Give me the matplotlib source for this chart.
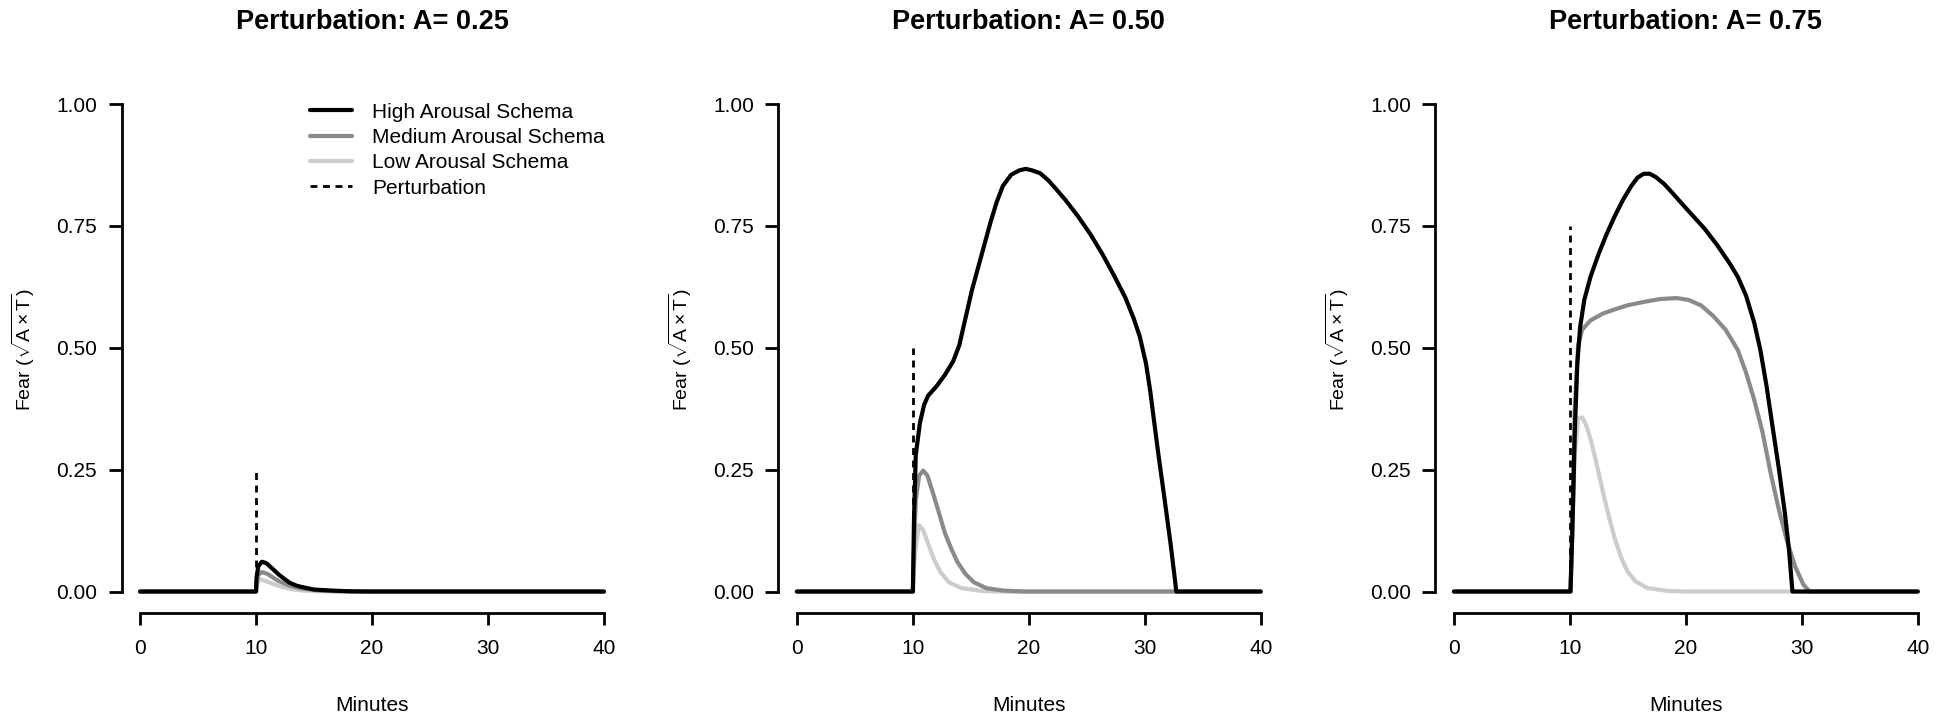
import matplotlib
matplotlib.use('Agg')
import matplotlib.pyplot as plt

plt.rcParams['font.family'] = ['Liberation Sans', 'DejaVu Sans']
plt.rcParams['mathtext.fontset'] = 'custom'
plt.rcParams['mathtext.rm'] = 'Liberation Sans'
plt.rcParams['mathtext.it'] = 'Liberation Sans'

amplitudes = [0.25, 0.50, 0.75]
titles = ['Perturbation: A= 0.25', 'Perturbation: A= 0.50', 'Perturbation: A= 0.75']
perturb_time = 10
x_ticks = [0, 10, 20, 30, 40]
y_ticks = [0.00, 0.25, 0.50, 0.75, 1.00]

# A = 0.25
t_high_25 = [0, 10, 10.05, 10.2, 10.5, 10.8, 11.0, 11.5, 12.0, 12.5, 12.9, 13.5, 14.0, 15.0,
             16.5, 18.0, 20.0, 40]
high_25 = [0, 0, 0.03, 0.052, 0.061, 0.059, 0.056, 0.045, 0.034, 0.025, 0.018, 0.012, 0.009,
           0.004, 0.002, 0.0005, 0, 0]
t_med_25 = [0, 10, 10.05, 10.2, 10.5, 11.0, 11.5, 12.0, 13.0, 14.0, 15.5, 17.0, 19.0, 40]
med_25 = [0, 0, 0.02, 0.034, 0.040, 0.036, 0.028, 0.021, 0.011, 0.006, 0.002, 0.0007, 0, 0]
t_low_25 = [0, 10, 10.05, 10.2, 10.4, 11.0, 12.0, 13.0, 14.0, 15.5, 18.0, 40]
low_25 = [0, 0, 0.012, 0.022, 0.025, 0.02, 0.011, 0.005, 0.002, 0.0005, 0, 0]

# A = 0.50
t_high_50 = [0, 10, 10.1, 10.25, 10.61, 10.97, 11.32, 12.04, 12.75, 13.47, 14.0, 14.54, 15.08,
             15.62, 16.15, 16.69, 17.23, 17.76, 18.48, 19.19, 19.73, 20.27, 20.98, 21.7,
             22.41, 23.13, 24.2, 25.28, 26.35, 27.42, 28.32, 29.03, 29.57, 30.11, 30.47,
             30.82, 31.18, 31.72, 32.25, 32.72, 40]
high_50 = [0, 0, 0.15, 0.28, 0.346, 0.383, 0.402, 0.421, 0.444, 0.472, 0.505, 0.561, 0.617,
           0.664, 0.71, 0.757, 0.799, 0.832, 0.855, 0.864, 0.867, 0.864, 0.858, 0.843,
           0.824, 0.804, 0.771, 0.734, 0.692, 0.645, 0.603, 0.561, 0.523, 0.467, 0.411,
           0.346, 0.28, 0.187, 0.093, 0, 0]
t_med_50 = [0, 10, 10.1, 10.25, 10.54, 10.89, 11.25, 11.68, 12.22, 12.75, 13.29, 13.83, 14.54,
            15.26, 16.33, 17.76, 19.55, 40]
med_50 = [0, 0, 0.09, 0.187, 0.238, 0.248, 0.238, 0.206, 0.164, 0.121, 0.089, 0.061, 0.036,
          0.019, 0.007, 0.002, 0, 0]
t_low_50 = [0, 10, 10.1, 10.25, 10.54, 10.89, 11.32, 11.86, 12.4, 13.11, 14.19, 15.98, 17.76, 40]
low_50 = [0, 0, 0.05, 0.093, 0.136, 0.126, 0.098, 0.064, 0.039, 0.019, 0.007, 0.001, 0, 0]

# A = 0.75
t_high_75 = [0, 10.05, 10.18, 10.28, 10.42, 10.64, 10.88, 11.24, 11.77, 12.47, 13.18, 13.89,
             14.59, 15.3, 15.83, 16.36, 16.89, 17.42, 18.13, 18.83, 19.72, 20.6, 21.66, 22.72,
             23.78, 24.49, 25.19, 25.9, 26.43, 26.96, 27.49, 28.02, 28.55, 28.9, 29.19, 40]
high_75 = [0, 0, 0.1, 0.187, 0.327, 0.467, 0.542, 0.598, 0.645, 0.692, 0.734, 0.771, 0.804,
           0.832, 0.849, 0.857, 0.857, 0.85, 0.836, 0.818, 0.794, 0.771, 0.743, 0.71, 0.673,
           0.645, 0.607, 0.551, 0.495, 0.421, 0.336, 0.252, 0.159, 0.084, 0, 0]
t_med_75 = [0, 10.05, 10.18, 10.42, 10.71, 11.06, 11.77, 12.83, 13.89, 14.95, 16.36, 17.77,
            19.19, 20.25, 21.31, 22.37, 23.43, 24.49, 25.19, 25.9, 26.61, 27.31, 28.02,
            28.73, 29.43, 30.14, 30.67, 40]
med_75 = [0, 0, 0.1, 0.374, 0.505, 0.537, 0.556, 0.57, 0.579, 0.587, 0.594, 0.6, 0.602,
          0.598, 0.587, 0.565, 0.537, 0.495, 0.449, 0.393, 0.327, 0.243, 0.168, 0.103,
          0.051, 0.014, 0, 0]
t_low_75 = [0, 10.05, 10.18, 10.42, 10.71, 11.06, 11.41, 11.84, 12.3, 12.83, 13.36, 13.89,
            14.42, 14.95, 15.65, 16.71, 18.48, 20.25, 40]
low_75 = [0, 0, 0.1, 0.28, 0.355, 0.357, 0.341, 0.308, 0.262, 0.206, 0.154, 0.107, 0.07,
          0.042, 0.021, 0.007, 0.001, 0, 0]

panels = [
    (t_high_25, high_25, t_med_25, med_25, t_low_25, low_25),
    (t_high_50, high_50, t_med_50, med_50, t_low_50, low_50),
    (t_high_75, high_75, t_med_75, med_75, t_low_75, low_75),
]

fig = plt.figure(figsize=(19.41, 7.17), dpi=100)
lefts = [0.0626, 0.4010, 0.7395]

for i, (th, h, tm, m, tl, l) in enumerate(panels):
    ax = fig.add_axes([lefts[i], 0.1444, 0.2581, 0.7343])
    style = dict(lw=3, solid_capstyle='round', solid_joinstyle='round')
    ax.plot(tl, l, color='#cccccc', label='Low Arousal Schema', **style)
    ax.plot(tm, m, color='#8a8a8a', label='Medium Arousal Schema', **style)
    ax.plot(th, h, color='black', label='High Arousal Schema', **style)
    ax.plot([perturb_time, perturb_time], [0, amplitudes[i]], color='black', lw=2,
            dashes=(2.5, 2), label='Perturbation')

    ax.set_xlim(-1.6, 41.6)
    ax.set_ylim(-0.045, 1.035)
    for side in ['top', 'right']:
        ax.spines[side].set_visible(False)
    ax.spines['left'].set_bounds(0, 1)
    ax.spines['bottom'].set_bounds(0, 40)
    ax.spines['left'].set_linewidth(2)
    ax.spines['bottom'].set_linewidth(2)
    ax.set_xticks(x_ticks)
    ax.set_yticks(y_ticks)
    ax.set_yticklabels(['%.2f' % v for v in y_ticks])
    ax.tick_params(axis='x', length=8.5, width=2, labelsize=15, pad=10)
    ax.tick_params(axis='y', length=9.5, width=2, labelsize=15, pad=8)

    ax.set_title(titles[i], fontsize=19.5, fontweight='bold', pad=42)
    ax.set_xlabel('Minutes', fontsize=15)
    ax.xaxis.set_label_coords(0.5, -0.157)
    ax.set_ylabel(r'Fear ($\sqrt{\mathrm{A}\times\mathrm{T}}$)', fontsize=14)
    ax.yaxis.set_label_coords(-0.168, 0.5)

    if i == 0:
        handles, labels = ax.get_legend_handles_labels()
        order = [2, 1, 0, 3]
        ax.legend([handles[k] for k in order], [labels[k] for k in order],
                  loc='upper left', bbox_to_anchor=(0.376, 0.97), frameon=False,
                  fontsize=15, handlelength=2.0, handletextpad=1.0, labelspacing=0.3,
                  borderpad=0, borderaxespad=0)

fig.savefig('out.png', dpi=100)
